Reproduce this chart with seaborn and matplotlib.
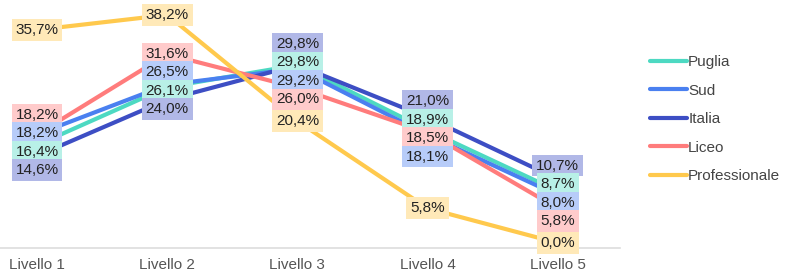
import numpy as np
import pandas as pd
import matplotlib.pyplot as plt
import seaborn as sns
from matplotlib.colors import to_rgb

categories = ["Livello 1", "Livello 2", "Livello 3", "Livello 4", "Livello 5"]
series = ["Puglia", "Sud", "Italia", "Liceo", "Professionale"]
puglia = [16.4, 26.1, 29.8, 18.9, 8.7]
sud = [18.2, 26.5, 29.2, 18.1, 8.0]
italia = [14.6, 24.0, 29.8, 21.0, 10.7]
liceo = [18.2, 31.6, 26.0, 18.5, 5.8]
professionale = [35.7, 38.2, 20.4, 5.8, 0.0]

colors = ["#4DD9C2", "#4A80F0", "#3D4EC4", "#FF7C7C", "#FFC94D"]
# order used when two labels share the same value
tie_order = ["Italia", "Liceo", "Puglia", "Sud", "Professionale"]

values = {"Puglia": puglia, "Sud": sud, "Italia": italia,
          "Liceo": liceo, "Professionale": professionale}
df = pd.DataFrame([
    {"livello": c, "serie": s, "pct": v}
    for s in series for c, v in zip(categories, values[s])
])

sns.set_theme(style="white")
plt.rcParams["font.family"] = ["Liberation Sans", "DejaVu Sans"]

fig = plt.figure(figsize=(7.91, 2.77), dpi=100)
ax = fig.add_axes([0.0, 0.105, 0.784, 0.895])

palette = dict(zip(series, colors))
sns.lineplot(data=df, x="livello", y="pct", hue="serie", hue_order=series,
             palette=palette, sort=False, linewidth=3.0, ax=ax,
             solid_capstyle="round")

ax.set_xlim(-0.285, 4.48)
ax.set_ylim(-0.84, 40.7)
ax.set_xlabel("")
ax.set_ylabel("")
ax.set_yticks([])
ax.tick_params(axis="x", length=0, pad=7, labelsize=11, labelcolor="#555555")
for side in ["top", "left", "right"]:
    ax.spines[side].set_visible(False)
ax.spines["bottom"].set_color("#dddddd")
ax.spines["bottom"].set_linewidth(1.2)


def light(c, a=0.4):
    r, g, b = to_rgb(c)
    return (1 - a + a * r, 1 - a + a * g, 1 - a + a * b)


# spread labels so they don't overlap
gap = 3.1
for i, cat in enumerate(categories):
    items = sorted(series, key=lambda s: (-values[s][i], tie_order.index(s)))
    pos = [values[s][i] for s in items]
    for _ in range(200):
        for k in range(len(pos) - 1):
            d = pos[k] - pos[k + 1]
            if d < gap:
                shift = (gap - d) / 2
                pos[k] += shift
                pos[k + 1] -= shift
    for s, p in zip(items, pos):
        txt = f"{values[s][i]:.1f}%".replace(".", ",")
        ax.text(i, p, txt, ha="center", va="center", fontsize=11,
                color="#222222", zorder=5,
                bbox=dict(boxstyle="square,pad=0.25", fc=light(palette[s]),
                          ec="none"))

leg = ax.legend(loc="center left", bbox_to_anchor=(0.812, 0.57),
                bbox_transform=fig.transFigure, frameon=False, fontsize=11,
                handlelength=2.4, handletextpad=0.1, labelspacing=0.95,
                borderpad=0)
for t in leg.get_texts():
    t.set_color("#444444")
for h in leg.get_lines():
    h.set_linewidth(3.0)

fig.savefig("out.png", dpi=100)
